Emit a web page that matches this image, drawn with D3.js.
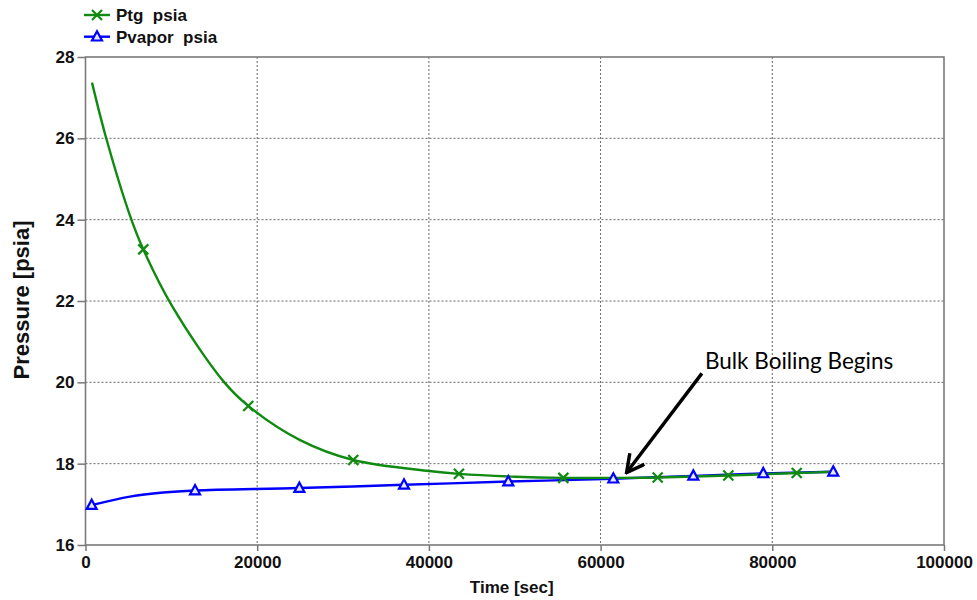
<!DOCTYPE html>
<html>
<head>
<script src="https://d3js.org/d3.v7.min.js"></script>
<style>
  body { margin: 0; background: #fff; font-family: "Liberation Sans", Arial, sans-serif; }
  .tick text { font-weight: bold; font-size: 17px; fill: #111; }
  .grid line { stroke: #666; stroke-dasharray: 2,2; }
</style>
</head>
<body>
<div id="chart"></div>
<script>
// Ptg curve (time [sec], pressure [psia])
const ptgTime  = [760, 2390, 5180, 6730, 10160, 16050, 18960, 25000, 31190, 40000, 43500, 50000, 55660, 62000, 66650, 74880, 82840, 87100];
const ptgValue = [27.37, 26.02, 24.1, 23.27, 21.85, 20.03, 19.42, 18.58, 18.09, 17.82, 17.75, 17.68, 17.65, 17.65, 17.66, 17.71, 17.77, 17.80];
const ptgMarkTime  = [6730, 18960, 31190, 43500, 55660, 66650, 74880, 82840];
const ptgMarkValue = [23.27, 19.42, 18.09, 17.75, 17.65, 17.66, 17.71, 17.77];

// Pvapor curve
const pvTime  = [720, 5180, 9060, 12760, 24910, 37100, 49250, 61480, 70800, 78950, 87100];
const pvValue = [16.98, 17.19, 17.29, 17.34, 17.40, 17.48, 17.56, 17.63, 17.70, 17.76, 17.80];
const pvMarkTime  = [720, 12760, 24910, 37100, 49250, 61480, 70800, 78950, 87100];
const pvMarkValue = [16.98, 17.34, 17.40, 17.48, 17.56, 17.63, 17.70, 17.76, 17.80];

const xTicks = [0, 20000, 40000, 60000, 80000, 100000];
const yTicks = [16, 18, 20, 22, 24, 26, 28];
const seriesNames = ["Ptg  psia", "Pvapor  psia"];

// annotation: arrow tip, arrow tail, label
const noteText = "Bulk Boiling Begins";
const noteTip  = [63100, 17.80];
const noteTail = [71800, 20.22];
const notePos  = [72150, 20.34];

const W = 977, H = 600;
const margin = { top: 57, right: 33, bottom: 55, left: 85.5 };
const width = W - margin.left - margin.right,
      height = H - margin.top - margin.bottom;

const green = "#108a10", blue = "#0000ff";

const svg = d3.select("#chart").append("svg")
  .attr("width", W).attr("height", H);

const defs = svg.append("defs");
defs.append("marker")
  .attr("id", "arrow").attr("viewBox", "0 0 10 10")
  .attr("refX", 8.5).attr("refY", 5)
  .attr("markerWidth", 6).attr("markerHeight", 6)
  .attr("orient", "auto")
  .append("path").attr("d", "M0.5,0.5 L9,5 L0.5,9.5").attr("fill", "none")
  .attr("stroke", "#000").attr("stroke-width", 1.7);

const g = svg.append("g").attr("transform", `translate(${margin.left},${margin.top})`);

const x = d3.scaleLinear().domain([0, 100000]).range([0, width]);
const y = d3.scaleLinear().domain([16, 28]).range([height, 0]);

// grid
g.append("g").attr("class", "grid")
  .selectAll("line").data(xTicks.slice(1, -1)).join("line")
  .attr("x1", d => x(d)).attr("x2", d => x(d)).attr("y1", 0).attr("y2", height);
g.append("g").attr("class", "grid")
  .selectAll("line").data(yTicks.slice(1, -1)).join("line")
  .attr("x1", 0).attr("x2", width).attr("y1", d => y(d)).attr("y2", d => y(d));

// axes
const xAxis = g.append("g").attr("transform", `translate(0,${height})`)
  .call(d3.axisBottom(x).tickValues(xTicks).tickFormat(d3.format("d")).tickSize(6).tickPadding(5));
const yAxis = g.append("g")
  .call(d3.axisLeft(y).tickValues(yTicks).tickSize(8).tickPadding(3));
[xAxis, yAxis].forEach(a => {
  a.select(".domain").remove();
  a.selectAll(".tick line").attr("stroke", "#777").attr("stroke-width", 1.5);
});

// frame
g.append("rect").attr("width", width).attr("height", height)
  .attr("fill", "none").attr("stroke", "#7a7a7a").attr("stroke-width", 1.6);

// lines
const line = d3.line().x(d => x(d[0])).y(d => y(d[1])).curve(d3.curveCatmullRom.alpha(0.5));
const pvData = pvTime.map((t, i) => [t, pvValue[i]]);
const ptgData = ptgTime.map((t, i) => [t, ptgValue[i]]);

g.append("path").datum(pvData).attr("d", line)
  .attr("fill", "none").attr("stroke", blue).attr("stroke-width", 2.4);
g.append("path").datum(ptgData).attr("d", line)
  .attr("fill", "none").attr("stroke", green).attr("stroke-width", 2.4);

function xMark(sel) {
  sel.append("path").attr("d", "M-5,-5L5,5M-5,5L5,-5")
    .attr("stroke", green).attr("stroke-width", 2.2).attr("fill", "none");
}
function triMark(sel) {
  sel.append("path").attr("d", "M0,-5.5L5,3.8L-5,3.8Z")
    .attr("stroke", blue).attr("stroke-width", 2.2).attr("fill", "#e8e8ff");
}

g.selectAll(".ptgm").data(ptgMarkTime).join("g")
  .attr("transform", (d, i) => `translate(${x(d)},${y(ptgMarkValue[i])})`)
  .call(xMark);
g.selectAll(".pvm").data(pvMarkTime).join("g")
  .attr("transform", (d, i) => `translate(${x(d)},${y(pvMarkValue[i])})`)
  .call(triMark);

// annotation
g.append("line")
  .attr("x1", x(noteTail[0])).attr("y1", y(noteTail[1]))
  .attr("x2", x(noteTip[0])).attr("y2", y(noteTip[1]))
  .attr("stroke", "#000").attr("stroke-width", 3.4)
  .attr("marker-end", "url(#arrow)");
g.append("text").attr("x", x(notePos[0])).attr("y", y(notePos[1]))
  .attr("font-family", "Lato, 'Open Sans', sans-serif").attr("font-size", 22.5)
  .attr("fill", "#000").text(noteText);

// axis titles
svg.append("text").attr("x", margin.left + width / 2 - 3).attr("y", 593)
  .attr("text-anchor", "middle").attr("font-weight", "bold").attr("font-size", 17)
  .attr("fill", "#111").text("Time [sec]");
svg.append("text").attr("transform", "translate(29,300) rotate(-90)")
  .attr("text-anchor", "middle").attr("font-weight", "bold").attr("font-size", 22)
  .attr("fill", "#111").text("Pressure [psia]");

// legend
const legend = svg.selectAll(".legend").data(seriesNames).join("g")
  .attr("transform", (d, i) => `translate(84,${15 + i * 21.7})`);
legend.append("line").attr("x1", 0).attr("x2", 26)
  .attr("stroke", (d, i) => i === 0 ? green : blue).attr("stroke-width", 2.4);
legend.each(function(d, i) {
  const m = d3.select(this).append("g").attr("transform", "translate(13,0)");
  if (i === 0) xMark(m); else triMark(m);
});
legend.append("text").attr("x", 32).attr("y", 6)
  .attr("font-weight", "bold").attr("font-size", 17).attr("fill", "#111")
  .style("white-space", "pre").text(d => d);
</script>
</body>
</html>
